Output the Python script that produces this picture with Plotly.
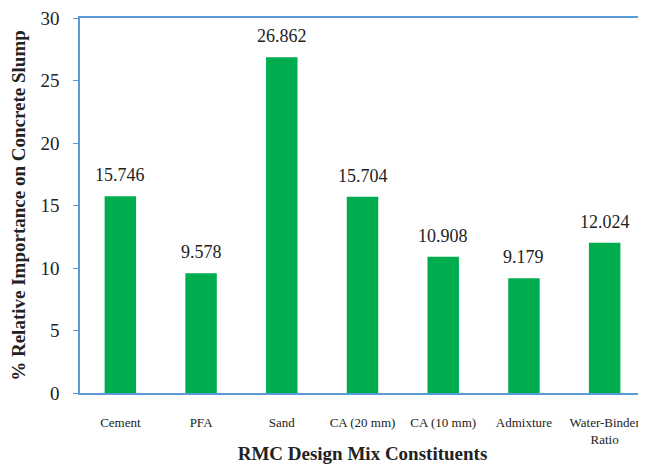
import plotly.graph_objects as go

constituents = ["Cement", "PFA", "Sand", "CA (20 mm)", "CA (10 mm)", "Admixture", "Water-Binder<br>Ratio"]
importance = [15.746, 9.578, 26.862, 15.704, 10.908, 9.179, 12.024]
y_ticks = [0, 5, 10, 15, 20, 25, 30]

serif = "'Liberation Serif', 'Times New Roman', serif"
axis_blue = "#5b9bd5"

fig = go.Figure()
fig.add_trace(go.Bar(
    x=constituents,
    y=importance,
    marker=dict(color="#00ad4e", line=dict(width=0)),
))

# value labels above bars (annotations keep full font size)
for name, val in zip(constituents, importance):
    fig.add_annotation(
        x=name, y=val, text=f"{val:.3f}", showarrow=False,
        yanchor="bottom", yshift=9,
        font=dict(family=serif, size=18, color="#222"),
    )

# page body adds an 8px margin, so the figure is sized 8px smaller
fig.update_layout(
    width=638, height=456,
    margin=dict(l=72, r=1, t=10, b=71),
    plot_bgcolor="white",
    paper_bgcolor="white",
    showlegend=False,
    bargap=0.61,
    font=dict(family=serif, color="#222"),
)
fig.update_xaxes(
    automargin=False,
    showline=True, mirror=True, linecolor=axis_blue, linewidth=1.5,
    ticks="", ticklabelstandoff=17,
    tickfont=dict(family=serif, size=13, color="#222"),
    title=dict(text="<b>RMC Design Mix Constituents</b>", font=dict(family=serif, size=19), standoff=1),
)
fig.update_yaxes(
    automargin=False,
    range=[0, 30], tickvals=y_ticks, ticklabeloverflow="allow",
    showline=True, mirror=True, linecolor=axis_blue, linewidth=1.5,
    ticks="outside", ticklen=5, tickcolor=axis_blue, ticklabelstandoff=10,
    showgrid=False, zeroline=False,
    tickfont=dict(family=serif, size=19, color="#222"),
    title=dict(text="<b>% Relative Importance on Concrete Slump</b>", font=dict(family=serif, size=19), standoff=11),
)

fig.write_html("out.html")
